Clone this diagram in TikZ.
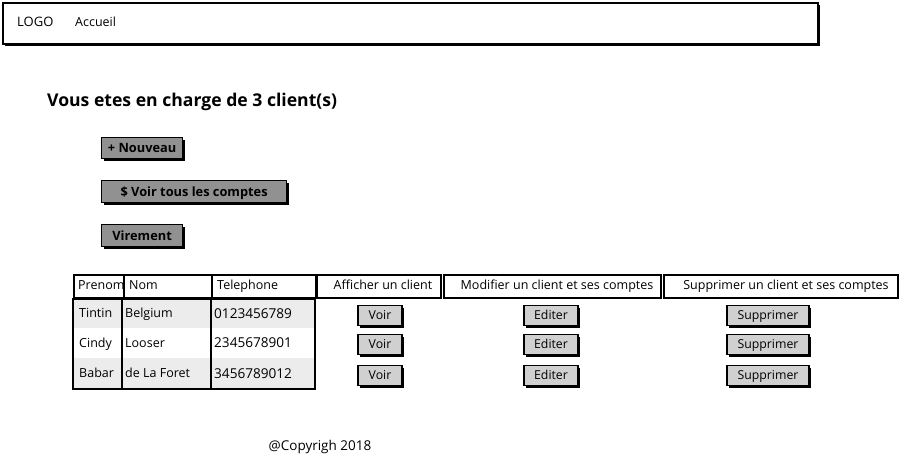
\documentclass[tikz,border=0pt]{standalone}
\usepackage{fontspec}
\setmainfont{Open Sans}
\usetikzlibrary{shadows}
\definecolor{btndark}{RGB}{145,145,145}
\definecolor{btnlight}{RGB}{208,208,208}
\definecolor{rowgray}{RGB}{236,236,236}
\tikzset{
  shade2/.style={general shadow={shadow xshift=2pt, shadow yshift=-2pt, fill=black}},
  boxframe/.style={draw=black, line width=1.5pt, fill=white, inner sep=0pt, anchor=north west},
  bigbtn/.style={draw=black, line width=1.2pt, fill=btndark, shade2, inner sep=0pt,
     font=\fontsize{12.8}{14}\selectfont\bfseries, text height=9.1pt, text depth=0pt, anchor=north west},
  smallbtn/.style={draw=black, line width=1.2pt, fill=btnlight, shade2, inner sep=0pt,
     font=\fontsize{12.3}{14}\selectfont, text height=8.8pt, text depth=0pt, minimum height=20pt},
  txt/.style={font=\fontsize{12.5}{14}\selectfont, inner sep=0pt, text height=8.9pt, text depth=0pt},
  ltxt/.style={txt, anchor=west},
  numtxt/.style={ltxt, font=\fontsize{13.6}{14}\selectfont, text height=9.7pt},
}
\begin{document}
\begin{tikzpicture}[x=1pt,y=-1pt]
\useasboundingbox[fill=white] (0,0) rectangle (908,458);
% header bar
\node[boxframe, shade2, minimum width=815pt, minimum height=41pt] (header) at (2,2) {};
\node[ltxt, font=\fontsize{13}{14}\selectfont, text height=9.3pt] (logo) at (17,22) {LOGO};
\node[ltxt] (accueil) at (75,22) {Accueil};
% title
\node[inner sep=0pt, anchor=west, font=\fontsize{17.6}{20}\selectfont\bfseries, text height=12.6pt, text depth=0pt] (title) at (47,100) {Vous etes en charge de 3 client(s)};
% big buttons
\node[bigbtn, minimum width=81pt, minimum height=21pt] (nouveau) at (101,137) {+ Nouveau};
\node[bigbtn, minimum width=185pt, minimum height=22pt] (comptes) at (101,180) {\$ Voir tous les comptes};
\node[bigbtn, minimum width=81pt, minimum height=22pt] (virement) at (101,224) {Virement};
% table data area
\fill[rowgray] (73,299) rectangle (315,328);
\fill[rowgray] (73,358) rectangle (315,389);
\draw[line width=1.5pt] (73,299) rectangle (315,389);
\draw[line width=1.5pt] (122,299) -- (122,389);
\draw[line width=1.5pt] (211,299) -- (211,389);
% header cells
\node[boxframe, minimum width=50pt, minimum height=23pt] (hprenom) at (73,274) {};
\node[boxframe, minimum width=88pt, minimum height=23pt] (hnom) at (123,274) {};
\node[boxframe, minimum width=104pt, minimum height=23pt] (htel) at (211,274) {};
\node[boxframe, minimum width=124pt, minimum height=23pt] (hafficher) at (316,274) {};
\node[boxframe, minimum width=217pt, minimum height=23pt] (hmodifier) at (443,274) {};
\node[boxframe, minimum width=234pt, minimum height=23pt] (hsupprimer) at (663,274) {};
\node[ltxt] (tprenom) at (78,285.5) {Prenom};
\node[ltxt] (tnom) at (129,285.5) {Nom};
\node[ltxt] (ttel) at (217,285.5) {Telephone};
\node[txt] (tafficher) at (383,285.5) {Afficher un client};
\node[txt] (tmodifier) at (557,285.5) {Modifier un client et ses comptes};
\node[txt] (tsupprimer) at (786,285.5) {Supprimer un client et ses comptes};
% rows
\node[ltxt] (r1a) at (79,313.5) {Tintin};
\node[ltxt] (r1b) at (125,313.5) {Belgium};
\node[numtxt] (r1c) at (214,313.5) {0123456789};
\node[ltxt] (r2a) at (79,343) {Cindy};
\node[ltxt] (r2b) at (125,343) {Looser};
\node[numtxt] (r2c) at (214,343) {2345678901};
\node[ltxt] (r3a) at (79,373.5) {Babar};
\node[ltxt] (r3b) at (125,373.5) {de La Foret};
\node[numtxt] (r3c) at (214,373.5) {3456789012};
% row buttons
\node[smallbtn, minimum width=44pt] (voir1) at (380,315.5) {Voir};
\node[smallbtn, minimum width=44pt] (voir2) at (380,344.5) {Voir};
\node[smallbtn, minimum width=44pt] (voir3) at (380,375.5) {Voir};
\node[smallbtn, minimum width=54pt] (edit1) at (551,315.5) {Editer};
\node[smallbtn, minimum width=54pt] (edit2) at (551,344.5) {Editer};
\node[smallbtn, minimum width=54pt] (edit3) at (551,375.5) {Editer};
\node[smallbtn, minimum width=82pt] (supp1) at (768,315.5) {Supprimer};
\node[smallbtn, minimum width=82pt] (supp2) at (768,344.5) {Supprimer};
\node[smallbtn, minimum width=82pt] (supp3) at (768,375.5) {Supprimer};
% footer
\node[txt, font=\fontsize{13.5}{14}\selectfont, text height=9.6pt] (copy) at (320,446) {@Copyrigh 2018};
\end{tikzpicture}
\end{document}
